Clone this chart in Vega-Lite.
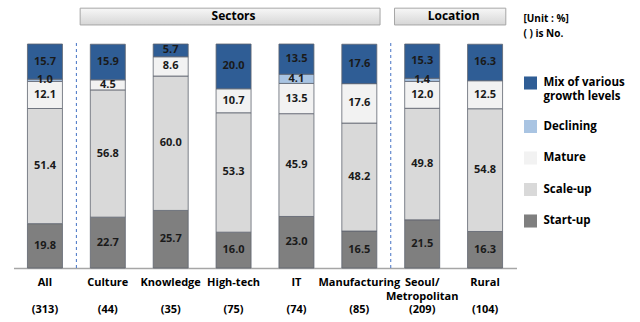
{
  "$schema": "https://vega.github.io/schema/vega-lite/v6.json",
  "width": 503,
  "height": 224,
  "autosize": {"type": "none"},
  "padding": {"left": 13.5, "top": 44, "right": 123.5, "bottom": 54},
  "background": "white",
  "config": {"view": {"stroke": null}, "font": "Open Sans"},
  "datasets": {
    "growth": [
      {"cat": "All", "status": "Start-up", "ord": 1, "value": 19.8},
      {"cat": "All", "status": "Scale-up", "ord": 2, "value": 51.4},
      {"cat": "All", "status": "Mature", "ord": 3, "value": 12.1},
      {"cat": "All", "status": "Declining", "ord": 4, "value": 1.0},
      {"cat": "All", "status": "Mix of various growth levels", "ord": 5, "value": 15.7},
      {"cat": "Culture", "status": "Start-up", "ord": 1, "value": 22.7},
      {"cat": "Culture", "status": "Scale-up", "ord": 2, "value": 56.8},
      {"cat": "Culture", "status": "Mature", "ord": 3, "value": 4.5},
      {"cat": "Culture", "status": "Mix of various growth levels", "ord": 5, "value": 15.9},
      {"cat": "Knowledge", "status": "Start-up", "ord": 1, "value": 25.7},
      {"cat": "Knowledge", "status": "Scale-up", "ord": 2, "value": 60.0},
      {"cat": "Knowledge", "status": "Mature", "ord": 3, "value": 8.6},
      {"cat": "Knowledge", "status": "Mix of various growth levels", "ord": 5, "value": 5.7},
      {"cat": "High-tech", "status": "Start-up", "ord": 1, "value": 16.0},
      {"cat": "High-tech", "status": "Scale-up", "ord": 2, "value": 53.3},
      {"cat": "High-tech", "status": "Mature", "ord": 3, "value": 10.7},
      {"cat": "High-tech", "status": "Mix of various growth levels", "ord": 5, "value": 20.0},
      {"cat": "IT", "status": "Start-up", "ord": 1, "value": 23.0},
      {"cat": "IT", "status": "Scale-up", "ord": 2, "value": 45.9},
      {"cat": "IT", "status": "Mature", "ord": 3, "value": 13.5},
      {"cat": "IT", "status": "Declining", "ord": 4, "value": 4.1},
      {"cat": "IT", "status": "Mix of various growth levels", "ord": 5, "value": 13.5},
      {"cat": "Manufacturing", "status": "Start-up", "ord": 1, "value": 16.5},
      {"cat": "Manufacturing", "status": "Scale-up", "ord": 2, "value": 48.2},
      {"cat": "Manufacturing", "status": "Mature", "ord": 3, "value": 17.6},
      {"cat": "Manufacturing", "status": "Mix of various growth levels", "ord": 5, "value": 17.6},
      {"cat": "Seoul/|Metropolitan", "status": "Start-up", "ord": 1, "value": 21.5},
      {"cat": "Seoul/|Metropolitan", "status": "Scale-up", "ord": 2, "value": 49.8},
      {"cat": "Seoul/|Metropolitan", "status": "Mature", "ord": 3, "value": 12.0},
      {"cat": "Seoul/|Metropolitan", "status": "Declining", "ord": 4, "value": 1.4},
      {"cat": "Seoul/|Metropolitan", "status": "Mix of various growth levels", "ord": 5, "value": 15.3},
      {"cat": "Rural", "status": "Start-up", "ord": 1, "value": 16.3},
      {"cat": "Rural", "status": "Scale-up", "ord": 2, "value": 54.8},
      {"cat": "Rural", "status": "Mature", "ord": 3, "value": 12.5},
      {"cat": "Rural", "status": "Mix of various growth levels", "ord": 5, "value": 16.3}
    ],
    "counts": [
      {"cat": "All", "n": "(313)"},
      {"cat": "Culture", "n": "(44)"},
      {"cat": "Knowledge", "n": "(35)"},
      {"cat": "High-tech", "n": "(75)"},
      {"cat": "IT", "n": "(74)"},
      {"cat": "Manufacturing", "n": "(85)"},
      {"cat": "Seoul/|Metropolitan", "n": "(209)"},
      {"cat": "Rural", "n": "(104)"}
    ],
    "headers": [
      {"name": "Sectors", "from": "Culture", "to": "Manufacturing", "mid": "High-tech"},
      {"name": "Location", "from": "Seoul/|Metropolitan", "to": "Rural", "mid": "Rural"}
    ],
    "dividers": [
      {"cat": "Culture"},
      {"cat": "Seoul/|Metropolitan"}
    ]
  },
  "layer": [
    {
      "data": {"name": "growth"},
      "mark": {"type": "bar", "width": 35, "stroke": "#5f6470", "strokeWidth": 0.8},
      "encoding": {
        "x": {
          "field": "cat", "type": "nominal",
          "scale": {
            "domain": ["All", "Culture", "Knowledge", "High-tech", "IT", "Manufacturing", "Seoul/|Metropolitan", "Rural"],
            "paddingInner": 0, "paddingOuter": 0
          },
          "axis": {
            "title": null,
            "labelExpr": "split(datum.value, '|')",
            "labelAngle": 0,
            "labelFontSize": 11,
            "labelFontWeight": "bold",
            "labelColor": "#000000",
            "labelLineHeight": 14,
            "labelPadding": 8,
            "labelBaseline": "top",
            "ticks": false,
            "domainColor": "#a6a6a6",
            "domainWidth": 1.5,
            "grid": false
          }
        },
        "y": {
          "field": "value", "type": "quantitative", "stack": "zero",
          "scale": {"domain": [0, 100], "nice": false},
          "axis": null
        },
        "color": {
          "field": "status", "type": "nominal",
          "scale": {
            "domain": ["Mix of various growth levels", "Declining", "Mature", "Scale-up", "Start-up"],
            "range": ["#2f5d95", "#a9c4e2", "#f2f2f2", "#d9d9d9", "#7f7f7f"]
          },
          "legend": {
            "orient": "none",
            "legendX": 510,
            "legendY": -30,
            "title": ["[Unit : %]", "( ) is No."],
            "titleFontSize": 10,
            "titleFontWeight": "bold",
            "titleColor": "#000000",
            "titleLineHeight": 15,
            "titlePadding": 37,
            "symbolType": "square",
            "symbolSize": 170,
            "symbolStrokeWidth": 0,
            "labelFontSize": 11.5,
            "labelFontWeight": "bold",
            "labelColor": "#000000",
            "labelLineHeight": 16,
            "labelOffset": 6,
            "rowPadding": 17.5,
            "labelExpr": "datum.value == 'Mix of various growth levels' ? ['Mix of various', 'growth levels'] : datum.value"
          }
        },
        "order": {"field": "ord", "type": "quantitative"}
      }
    },
    {
      "data": {"name": "growth"},
      "mark": {"type": "text", "fontSize": 11, "fontWeight": "bold", "color": "#1a1a1a"},
      "encoding": {
        "x": {"field": "cat", "type": "nominal"},
        "y": {"field": "value", "type": "quantitative", "stack": "zero", "bandPosition": 0.5},
        "detail": {"field": "status"},
        "order": {"field": "ord", "type": "quantitative"},
        "text": {"field": "value", "type": "quantitative", "format": ".1f"}
      }
    },
    {
      "data": {"name": "counts"},
      "mark": {"type": "text", "fontSize": 11, "fontWeight": "bold", "color": "#000000", "baseline": "middle"},
      "encoding": {
        "x": {"field": "cat", "type": "nominal"},
        "y": {"datum": -18.75},
        "text": {"field": "n"}
      }
    },
    {
      "data": {"name": "dividers"},
      "mark": {"type": "rule", "color": "#4472c4", "strokeDash": [3, 3], "strokeWidth": 1},
      "encoding": {
        "x": {"field": "cat", "type": "nominal", "bandPosition": 0},
        "y": {"datum": 0},
        "y2": {"datum": 101}
      }
    },
    {
      "data": {"name": "headers"},
      "mark": {
        "type": "rect",
        "stroke": "#a6a6a6",
        "strokeWidth": 1,
        "fill": {
          "gradient": "linear", "x1": 0, "y1": 0, "x2": 0, "y2": 1,
          "stops": [{"offset": 0, "color": "#f7f7f7"}, {"offset": 1, "color": "#d6d6d6"}]
        }
      },
      "encoding": {
        "x": {"field": "from", "type": "nominal", "bandPosition": 0.06},
        "x2": {"field": "to", "bandPosition": 0.83},
        "y": {"datum": 116},
        "y2": {"datum": 108.5}
      }
    },
    {
      "data": {"name": "headers"},
      "transform": [{"filter": "datum.name == 'Sectors'"}],
      "mark": {"type": "text", "fontSize": 12, "fontWeight": "bold", "color": "#000000"},
      "encoding": {
        "x": {"field": "mid", "type": "nominal", "bandPosition": 0.5},
        "y": {"datum": 112.3},
        "text": {"field": "name"}
      }
    },
    {
      "data": {"name": "headers"},
      "transform": [{"filter": "datum.name == 'Location'"}],
      "mark": {"type": "text", "fontSize": 12, "fontWeight": "bold", "color": "#000000"},
      "encoding": {
        "x": {"field": "mid", "type": "nominal", "bandPosition": 0},
        "y": {"datum": 112.3},
        "text": {"field": "name"}
      }
    }
  ]
}
